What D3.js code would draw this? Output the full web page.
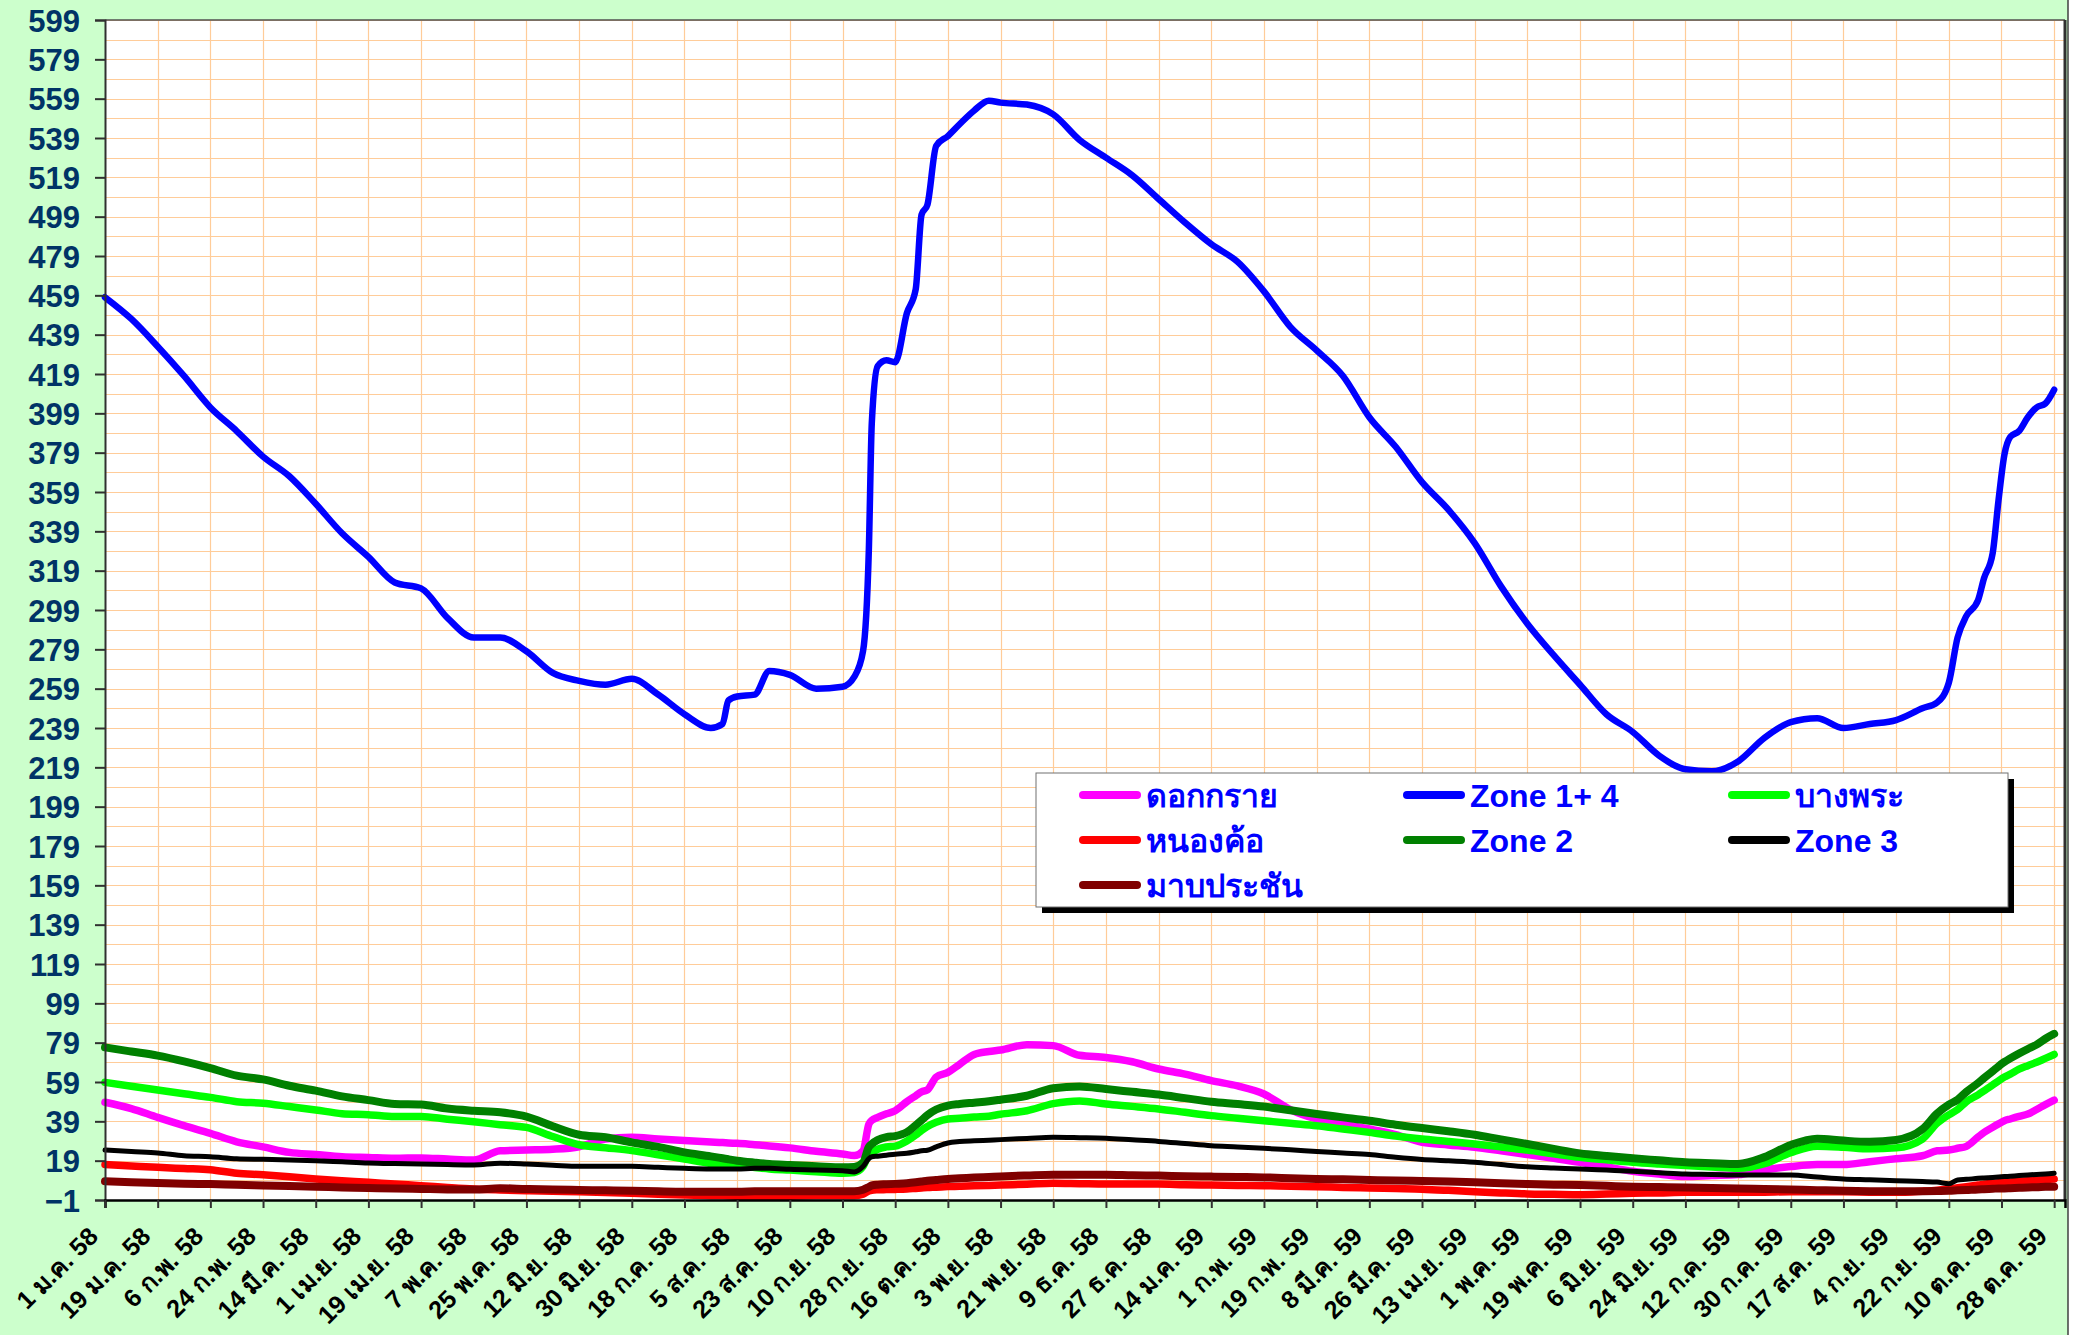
<!DOCTYPE html>
<html><head><meta charset="utf-8">
<script src="https://cdn.jsdelivr.net/npm/d3@7/dist/d3.min.js"></script>
<style>html,body{margin:0;padding:0;background:#fff;}svg{display:block;}</style>
</head><body>
<svg id="chart" width="2078" height="1335"></svg>
<script>
// ---- data: day offsets from 1 Jan 2015 (1 ม.ค. 58) ----
const days = [0,9,18,27,36,45,54,63,72,81,90,99,108,117,126,135,144,153,162,171,180,189,198,207,211,213,216,222,227,234,243,252,
256,259,261,262,264,267,270,274,277,279,281,284,288,292,297,302,306,
315,324,333,342,351,360,369,378,387,396,405,414,423,432,441,450,459,468,477,486,495,504,513,522,531,540,549,558,567,576,585,594,603,612,621,
626,630,633,636,640,642,645,647,649,651,654,657,660,663,666];

const seriesNames = ["ดอกกราย","Zone 1+ 4","บางพระ","หนองค้อ","Zone 2","Zone 3","มาบประชัน"];
const seriesColors = ["#FF00FF","#0000FF","#00FF00","#FF0000","#008000","#000000","#800000"];

const dokkrai = [48.7,45.5,41,36.8,32.9,28.6,26,23.2,22.1,21,20.6,20.2,20.4,19.8,19.3,24,24.4,24.8,26.1,30,30.9,30,29.2,28.5,28.2,28,27.8,27.1,26.5,25.5,23.8,22.4,
21.6,24,37.6,39.5,41,42.8,44.4,49,52,54,55,61.5,63.9,68,73,74.5,75.3,
78,77.5,72.6,71.5,69.3,65.6,63,59.7,57,52.9,45,40.2,37.5,35.1,32.3,28.3,27,25.8,24,22.1,20.2,18.2,15.9,13.6,12.2,10.9,11.4,11.9,14.3,16,17,17,18.5,20,21.5,
24,24.4,25.3,26.3,31,33.3,36,37.7,39.3,40.2,41.5,42.7,45,47.5,49.8];

const zone14 = [458,447,433,418,402,390,377,367,353,338,326,313,310,295,285,285,278,267,263,261,264,256,246,239,241,253,255,256,268,266,259,260,
265,278,330,394,423,426,425,450,462,500,505,535,540,546,553,558,557,
556,551,538,529,520,508,496,485,476,461,443,431,418,397,382,364,350,333,311,292,276,261,246,237,225,218,217,222,234,242,244,239,241,243,249,
252,262,285,296,304,315,328,355,378,387,390,397,402,404,411];

const bangphra = [58.8,56.8,54.9,53,51.2,49,48.2,46.5,44.8,42.9,42.4,41.4,41.5,40.1,38.8,37.3,35.9,31.3,27.1,25.6,24.1,22,19.8,17.6,17.1,16.9,16.5,15.5,14.8,14.2,13.4,12.6,
13,16,22,23,24.8,26,26.4,29,32,34.4,36.4,38.5,40.2,40.6,41.2,41.6,42.6,
44.4,48,49.4,47.8,46.6,45.3,43.6,41.9,40.6,39.3,38,36.8,35.1,33.4,31.5,30,28.8,27.5,26,24.4,22.5,20.7,19.4,18.2,17.3,16.5,15.8,15.1,17.5,23,26.3,25.8,25,25.5,30,
38,42.3,45,49,52.5,54.5,57.5,59.6,61.5,63,65.5,67.3,69,71,73];

const nongkho = [17,16.3,15.6,15,14.4,12.6,11.8,10.8,9.7,8.8,8,7.1,6.3,5.4,4.6,4.1,3.7,3.4,3.2,2.8,2.4,1.9,1.5,1.2,1.1,1,0.9,0.8,0.8,0.9,1.1,1.2,
1.2,2,3.6,4,4.2,4.3,4.4,4.6,4.9,5.1,5.3,5.5,5.8,6,6.2,6.4,6.6,
7,7.5,7.3,7.1,7.1,7.1,6.8,6.6,6.4,6.3,6,5.8,5.4,5.1,4.8,4.5,3.9,3.2,2.6,2.1,1.9,1.7,2,2.4,2.6,2.9,2.9,2.9,3,3.2,3.2,3.2,3,2.9,3.5,
4,4.6,5.2,5.8,6.6,7,7.5,7.8,8,8.2,8.5,8.8,9.1,9.4,9.7];

const zone2 = [76.6,74.5,72.4,69.5,66.1,62.2,60.3,57.1,54.6,51.7,49.8,47.8,47.5,45.5,44.4,43.6,41.4,36.5,32.2,30.9,28.3,26,23.2,21.2,20.2,19.7,19,18,17.3,16.8,16.2,15.6,
15.8,18,26,27.5,29.5,31,31.5,33.5,37,39.5,42.2,45,47,47.8,48.5,49.2,50,
52,55.8,56.7,55.4,54,52.6,50.8,49,47.8,46.5,44.6,42.7,41,39.3,37.3,35.6,34,32.2,29.8,27.5,25,22.7,21.4,20.2,19.2,18.2,17.7,17.3,20.8,27,30.2,29.2,28.6,29.5,35,
43,47.5,50,54,58.5,61,64.5,67,69.2,71,73.5,75.8,78,81,83.5];

const zone3 = [24.4,23.6,22.9,21.5,21,20,19.7,19.4,19,18.4,17.8,17.5,17.3,17,16.8,17.7,17.3,16.7,16.1,16.1,16.1,15.6,15.1,14.8,14.8,14.8,14.8,15.1,15.1,14.6,14.2,13.9,
13.3,16,20,21,21.3,21.8,22.3,22.8,23.5,24,24.3,26,28,28.7,29.1,29.4,29.7,
30.3,30.9,30.7,30.4,29.6,28.8,27.7,26.6,26,25.3,24.5,23.7,22.9,22.1,20.7,19.6,19,18.2,17,15.9,15.3,14.8,14.2,13.6,12.9,12.2,12,11.7,11.7,11.7,10.7,9.7,9.3,8.8,8.4,
8.1,7.3,9.2,9.5,10,10.2,10.5,10.7,10.9,11.1,11.4,11.7,12,12.2,12.6];

const mapprachan = [8.5,8,7.6,7.3,7.1,6.7,6.4,6.1,5.8,5.4,5.1,4.8,4.6,4.4,4.3,5,4.6,4.3,4.1,3.9,3.7,3.4,3.2,3.2,3.2,3.2,3.2,3.4,3.5,3.5,3.4,3.4,
3.4,4.2,5.6,6.4,6.8,7,7.2,7.5,8,8.4,8.8,9.2,9.7,10,10.4,10.7,11,
11.5,11.9,11.9,11.9,11.6,11.4,11.1,10.9,10.7,10.5,10.1,9.7,9.5,9.2,8.9,8.7,8.4,8,7.5,7.1,6.8,6.6,6.2,5.8,5.6,5.4,5.1,4.9,4.6,4.3,4,3.7,3.5,3.4,3.5,
3.6,3.7,3.9,4.1,4.4,4.5,4.7,4.9,4.9,5,5.2,5.4,5.5,5.7,5.8];

const seriesValues = [dokkrai, zone14, bangphra, nongkho, zone2, zone3, mapprachan];
const seriesWidths = [7.5,6.5,7.5,7.5,8,5,8];

const yTickValues = [-1,19,39,59,79,99,119,139,159,179,199,219,239,259,279,299,319,339,359,379,399,419,439,459,479,499,519,539,559,579,599];
const tickDays = [0,18,36,54,72,90,108,126,144,162,180,198,216,234,252,270,288,306,324,342,360,378,396,414,432,450,468,486,504,522,540,558,576,594,612,630,648,666];
const tickLabels = ["1 ม.ค. 58","19 ม.ค. 58","6 ก.พ. 58","24 ก.พ. 58","14 มี.ค. 58","1 เม.ย. 58","19 เม.ย. 58","7 พ.ค. 58","25 พ.ค. 58","12 มิ.ย. 58","30 มิ.ย. 58","18 ก.ค. 58","5 ส.ค. 58","23 ส.ค. 58","10 ก.ย. 58","28 ก.ย. 58","16 ต.ค. 58","3 พ.ย. 58","21 พ.ย. 58","9 ธ.ค. 58","27 ธ.ค. 58","14 ม.ค. 59","1 ก.พ. 59","19 ก.พ. 59","8 มี.ค. 59","26 มี.ค. 59","13 เม.ย. 59","1 พ.ค. 59","19 พ.ค. 59","6 มิ.ย. 59","24 มิ.ย. 59","12 ก.ค. 59","30 ก.ค. 59","17 ส.ค. 59","4 ก.ย. 59","22 ก.ย. 59","10 ต.ค. 59","28 ต.ค. 59"];

// ---- drawing ----
const BASE = Date.UTC(2015,0,1);
const toDate = d => new Date(BASE + d*864e5);
const svg = d3.select("#chart");
const L = 105, R = 2065, T = 20, B = 1200;

svg.append("rect").attr("x",0).attr("y",0).attr("width",2078).attr("height",1335).attr("fill","#ffffff");
svg.append("rect").attr("x",0).attr("y",0).attr("width",2068).attr("height",1335).attr("fill","#CCFFCC");
svg.append("line").attr("x1",2068).attr("x2",2068).attr("y1",0).attr("y2",1335).attr("stroke","#404040").attr("stroke-width",1.5);

const x = d3.scaleUtc().domain([toDate(0), toDate(669.7)]).range([L, R]);
const y = d3.scaleLinear().domain([-1, 599]).range([B, T]);

svg.append("rect").attr("x",L).attr("y",T).attr("width",R-L).attr("height",B-T).attr("fill","#ffffff");

// gridlines
const grid = svg.append("g");
grid.selectAll("line.h").data(d3.range(-1, 600, 10)).join("line")
  .attr("x1",L).attr("x2",R).attr("y1",d=>Math.round(y(d))+0.5).attr("y2",d=>Math.round(y(d))+0.5)
  .attr("stroke","#FFCC99").attr("stroke-width",1.2);
grid.selectAll("line.v").data(tickDays.slice(1)).join("line")
  .attr("x1",d=>Math.round(x(toDate(d)))+0.5).attr("x2",d=>Math.round(x(toDate(d)))+0.5).attr("y1",T).attr("y2",B)
  .attr("stroke","#FFCC99").attr("stroke-width",1.2);

// plot border
svg.append("line").attr("x1",L).attr("x2",R).attr("y1",T).attr("y2",T).attr("stroke","#505050").attr("stroke-width",1.5);
svg.append("line").attr("x1",R).attr("x2",R).attr("y1",T).attr("y2",B).attr("stroke","#303030").attr("stroke-width",3);

// series
const line = d3.line().x((d,i)=>x(toDate(days[i]))).y(d=>y(d)).curve(d3.curveMonotoneX);
const gl = svg.append("g");
seriesValues.forEach((vals,i)=>{
  gl.append("path").attr("d", line(vals)).attr("fill","none")
    .attr("stroke", seriesColors[i]).attr("stroke-width", seriesWidths[i])
    .attr("stroke-linejoin","round").attr("stroke-linecap","round");
});

// axes
const yAxis = d3.axisLeft(y).tickValues(yTickValues).tickSize(10).tickPadding(15);
const gy = svg.append("g").attr("transform",`translate(${L},0)`).call(yAxis);
gy.select(".domain").attr("stroke","#303030").attr("stroke-width",2);
gy.selectAll(".tick line").attr("stroke","#303030").attr("stroke-width",2);
gy.selectAll(".tick text").attr("fill","#003366").attr("font-family","'Liberation Sans', Arial, sans-serif")
  .attr("font-weight","bold").attr("font-size",31).attr("dy","0.36em");

const xAxis = d3.axisBottom(x).tickValues(tickDays.map(toDate)).tickFormat((d,i)=>tickLabels[i]).tickSize(8);
const gx = svg.append("g").attr("transform",`translate(0,${B})`).call(xAxis);
gx.select(".domain").attr("stroke","#000").attr("stroke-width",2.5);
gx.selectAll(".tick line").attr("stroke","#303030").attr("stroke-width",2);
gx.selectAll(".tick text").attr("fill","#000").attr("font-family","'Liberation Sans', Arial, 'Noto Sans', sans-serif")
  .attr("font-weight","bold").attr("font-size",25)
  .attr("y",0).attr("dy",0).attr("text-anchor","end")
  .attr("transform","translate(-6,38) rotate(-45)");

// legend
const lg = svg.append("g");
const lx = 1036, ly = 773, lw = 972, lh = 134;
lg.append("rect").attr("x",lx+6).attr("y",ly+6).attr("width",lw).attr("height",lh).attr("fill","#000");
lg.append("rect").attr("x",lx).attr("y",ly).attr("width",lw).attr("height",lh).attr("fill","#fff").attr("stroke","#707070").attr("stroke-width",1);
const colX = [1083, 1407, 1732];
const rowY = [795, 840, 885];
seriesNames.forEach((name,i)=>{
  const cx = colX[i%3], cy = rowY[Math.floor(i/3)];
  lg.append("line").attr("x1",cx).attr("x2",cx+54).attr("y1",cy).attr("y2",cy)
    .attr("stroke",seriesColors[i]).attr("stroke-width",8).attr("stroke-linecap","round");
  lg.append("text").attr("x",cx+63).attr("y",cy).attr("dy","0.36em")
    .attr("fill","#0000FF").attr("font-family","'Liberation Sans', Arial, sans-serif")
    .attr("font-weight","bold").attr("font-size",32).text(name);
});
</script>
</body></html>
